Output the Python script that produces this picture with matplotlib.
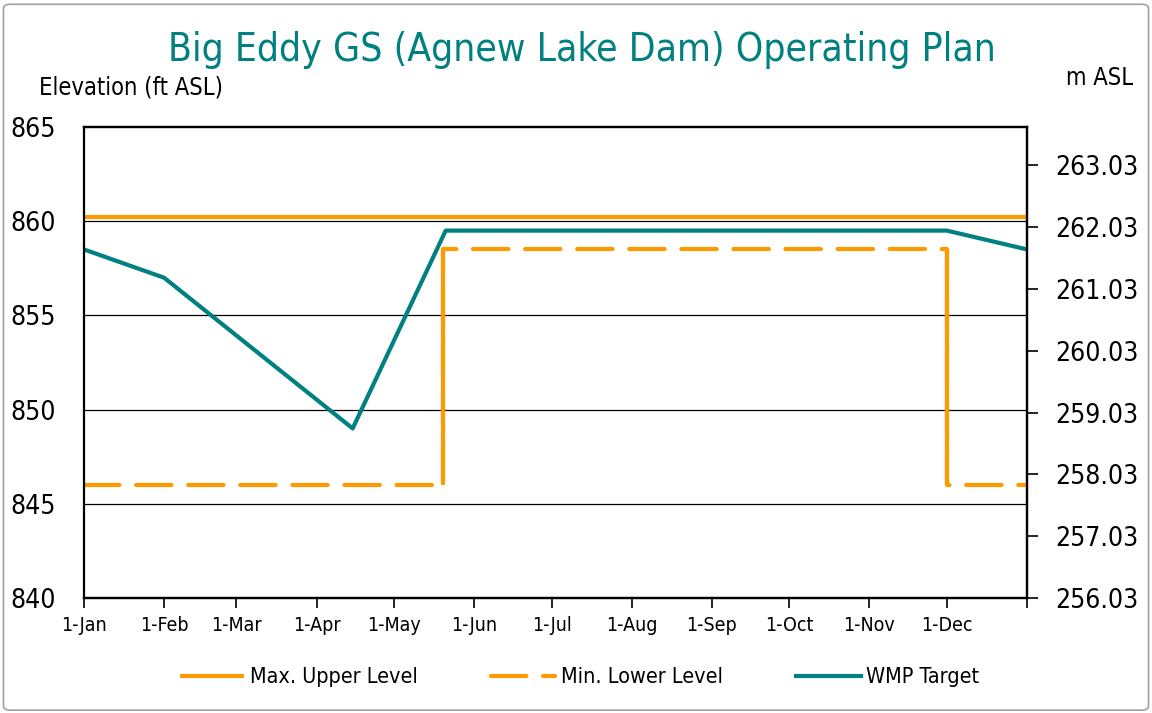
import numpy as np
import matplotlib
matplotlib.use("Agg")
import matplotlib.pyplot as plt
from matplotlib.patches import FancyBboxPatch

plt.rcParams["font.family"] = ["DejaVu Sans"]
plt.rcParams["font.stretch"] = "condensed"

# day of year (1-Jan = 0)
month_starts = [0, 31, 59, 90, 120, 151, 181, 212, 243, 273, 304, 334]
month_labels = ["1-Jan", "1-Feb", "1-Mar", "1-Apr", "1-May", "1-Jun",
                "1-Jul", "1-Aug", "1-Sep", "1-Oct", "1-Nov", "1-Dec"]
year_end = 365

max_days = [0, 365]
max_ft = [860.24, 860.24]

min_days = [0, 139, 334, 365]
min_ft = [846.0, 858.5, 846.0, 846.0]

wmp_days = [0, 31, 104, 140, 334, 365]
wmp_ft = [858.5, 857.0, 849.0, 859.5, 859.5, 858.5]

FT_PER_M = 3.28084
m_ticks = [256.03, 257.03, 258.03, 259.03, 260.03, 261.03, 262.03, 263.03]

ORANGE = "#FF9900"
TEAL = "#008080"

fig = plt.figure(figsize=(11.52, 7.13), dpi=100)
ax = fig.add_axes([0.0729, 0.1613, 0.8186, 0.6606])

for y in [845, 850, 855, 860]:
    ax.axhline(y, color="black", lw=0.9, zorder=1)

ax.plot(max_days, max_ft, color=ORANGE, lw=3.0, solid_capstyle="butt",
        label="Max. Upper Level", zorder=3)
ax.plot(min_days, min_ft, color=ORANGE, lw=3.0, drawstyle="steps-post",
        dashes=(8.5, 4), dash_capstyle="round", label="Min. Lower Level", zorder=3)
# vertical jumps of the min level are drawn solid
for i in range(1, len(min_days) - 1):
    ax.vlines(min_days[i], min(min_ft[i - 1], min_ft[i]), max(min_ft[i - 1], min_ft[i]),
              color=ORANGE, lw=3.0, zorder=3)
ax.plot(wmp_days, wmp_ft, color=TEAL, lw=3.0, label="WMP Target", zorder=4)

ax.set_xlim(0, year_end)
ax.set_ylim(840, 865)
ax.set_xticks(month_starts + [year_end])
ax.set_xticklabels(month_labels + [""], fontsize=14)
ax.set_yticks([840, 845, 850, 855, 860, 865])
ax.set_yticklabels(["840", "845", "850", "855", "860", "865"], fontsize=19)
ax.tick_params(axis="y", length=0, pad=20)
ax.tick_params(axis="x", length=7, width=1.2, pad=6)
for s in ax.spines.values():
    s.set_linewidth(1.6)
    s.set_color("black")
ax.spines["left"].set_color("#555555")
ax.spines["left"].set_linewidth(1.2)

ax2 = ax.twinx()
ax2.set_ylim(840 / FT_PER_M, 865 / FT_PER_M)
ax2.set_yticks(m_ticks)
ax2.set_yticklabels([f"{v:.2f}" for v in m_ticks], fontsize=19)
ax2.tick_params(axis="y", length=8, width=1.2, pad=12)
for s in ax2.spines.values():
    s.set_linewidth(1.6)

fig.text(0.505, 0.93, "Big Eddy GS (Agnew Lake Dam) Operating Plan",
         ha="center", va="center", fontsize=28, color=TEAL)
fig.text(0.034, 0.877, "Elevation (ft ASL)", ha="left", va="center", fontsize=17)
fig.text(0.984, 0.89, "m ASL", ha="right", va="center", fontsize=17)

fig.legend(loc="center", bbox_to_anchor=(0.503, 0.05), ncol=3, frameon=False,
           fontsize=15.5, handlelength=3.0, columnspacing=3.4, handletextpad=0.25)

border = FancyBboxPatch((0.003, 0.004), 0.994, 0.99, boxstyle="round,pad=0,rounding_size=0.006",
                        transform=fig.transFigure, fill=False, ec="#A0A0A0", lw=1.2)
fig.patches.append(border)

fig.savefig("out.png", dpi=100)
